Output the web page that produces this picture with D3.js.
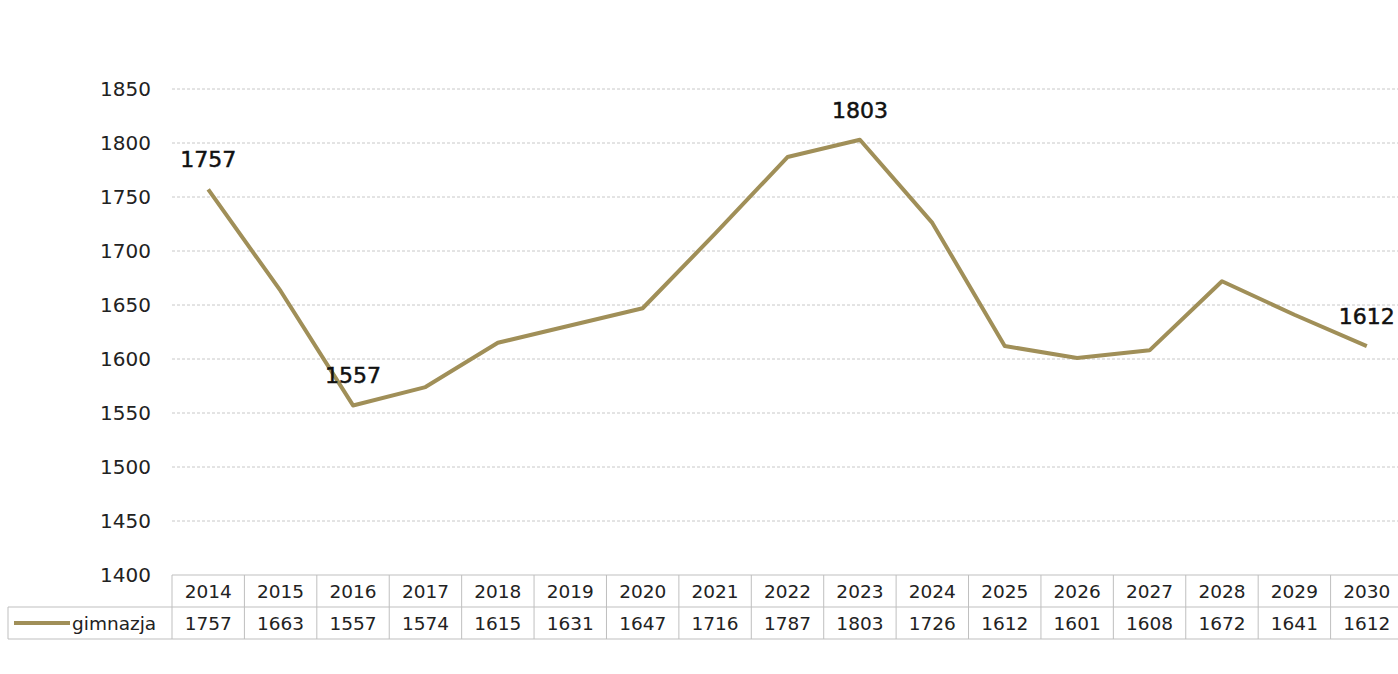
<!DOCTYPE html>
<html>
<head>
<meta charset="utf-8">
<script src="https://cdn.jsdelivr.net/npm/d3@7"></script>
<style>
  body { margin: 0; background: #fff; }
  svg { display: block; font-family: "DejaVu Sans", Verdana, sans-serif; }
</style>
</head>
<body>
<script>
const years = ['2014', '2015', '2016', '2017', '2018', '2019', '2020', '2021', '2022', '2023', '2024', '2025', '2026', '2027', '2028', '2029', '2030'];
const gimnazja = [1757, 1663, 1557, 1574, 1615, 1631, 1647, 1716, 1787, 1803, 1726, 1612, 1601, 1608, 1672, 1641, 1612];
const yTicks = [1400, 1450, 1500, 1550, 1600, 1650, 1700, 1750, 1800, 1850];
const labelled = ['2014', '2016', '2023', '2030'];
const seriesName = 'gimnazja';

const width = 1398, height = 674;
const lineColor = '#a08f58';
const svg = d3.select('body').append('svg').attr('width', width).attr('height', height);

const plotLeft = 172, plotRight = 1403;
const x = d3.scaleBand().domain(years).range([plotLeft, plotRight]);
const y = d3.scaleLinear().domain([1400, 1850]).range([575, 89]);
const cx = d => x(d) + x.bandwidth() / 2;

// gridlines
svg.append('g').selectAll('line')
  .data(yTicks.slice(1))
  .enter().append('line')
    .attr('x1', plotLeft).attr('x2', width)
    .attr('y1', d => y(d)).attr('y2', d => y(d))
    .attr('stroke', '#c8c8c8')
    .attr('stroke-width', 1)
    .attr('stroke-dasharray', '3,2');

// y axis labels
const yAxis = d3.axisLeft(y).tickValues(yTicks).tickFormat(d3.format('d')).tickSize(0).tickPadding(0);
const gy = svg.append('g').attr('transform', 'translate(151,0)').call(yAxis);
gy.select('.domain').remove();
gy.selectAll('text').attr('font-size', 20).attr('fill', '#222').attr('font-family', '"DejaVu Sans", sans-serif');

// line
const line = d3.line().x((d, i) => cx(years[i])).y(d => y(d));
svg.append('path')
  .datum(gimnazja)
  .attr('d', line)
  .attr('fill', 'none')
  .attr('stroke', lineColor)
  .attr('stroke-width', 4)
  .attr('stroke-linejoin', 'round');

// data labels
svg.append('g').selectAll('text')
  .data(labelled)
  .enter().append('text')
    .attr('x', d => cx(d))
    .attr('y', d => y(gimnazja[years.indexOf(d)]) - 22)
    .attr('text-anchor', 'middle')
    .attr('font-size', 22)
    .attr('fill', '#111')
    .attr('stroke', '#111')
    .attr('stroke-width', 0.5)
    .text(d => gimnazja[years.indexOf(d)]);

// data table
const rowTop = 575, rowH = 32;
const table = svg.append('g');
const border = '#bfbfbf';
table.append('line').attr('x1', plotLeft).attr('x2', width).attr('y1', rowTop).attr('y2', rowTop).attr('stroke', border);
table.append('line').attr('x1', 8).attr('x2', width).attr('y1', rowTop + rowH).attr('y2', rowTop + rowH).attr('stroke', border);
table.append('line').attr('x1', 8).attr('x2', width).attr('y1', rowTop + 2 * rowH).attr('y2', rowTop + 2 * rowH).attr('stroke', border);
table.append('line').attr('x1', 8).attr('x2', 8).attr('y1', rowTop + rowH).attr('y2', rowTop + 2 * rowH).attr('stroke', border);
table.selectAll('.vline')
  .data(years)
  .enter().append('line')
    .attr('class', 'vline')
    .attr('x1', d => x(d)).attr('x2', d => x(d))
    .attr('y1', rowTop).attr('y2', rowTop + 2 * rowH)
    .attr('stroke', border);

table.selectAll('.yr')
  .data(years)
  .enter().append('text')
    .attr('class', 'yr')
    .attr('x', d => cx(d))
    .attr('y', rowTop + rowH / 2 + 7)
    .attr('text-anchor', 'middle')
    .attr('font-size', 18.5)
    .attr('fill', '#222')
    .text(d => d);

table.selectAll('.val')
  .data(gimnazja)
  .enter().append('text')
    .attr('class', 'val')
    .attr('x', (d, i) => cx(years[i]))
    .attr('y', rowTop + rowH * 1.5 + 7)
    .attr('text-anchor', 'middle')
    .attr('font-size', 18.5)
    .attr('fill', '#222')
    .text(d => d);

// legend cell
table.append('line')
  .attr('x1', 14).attr('x2', 70)
  .attr('y1', rowTop + rowH * 1.5).attr('y2', rowTop + rowH * 1.5)
  .attr('stroke', lineColor).attr('stroke-width', 4);
table.append('text')
  .attr('x', 72).attr('y', rowTop + rowH * 1.5 + 7)
  .attr('font-size', 18.5).attr('fill', '#222')
  .text(seriesName);
</script>
</body>
</html>
